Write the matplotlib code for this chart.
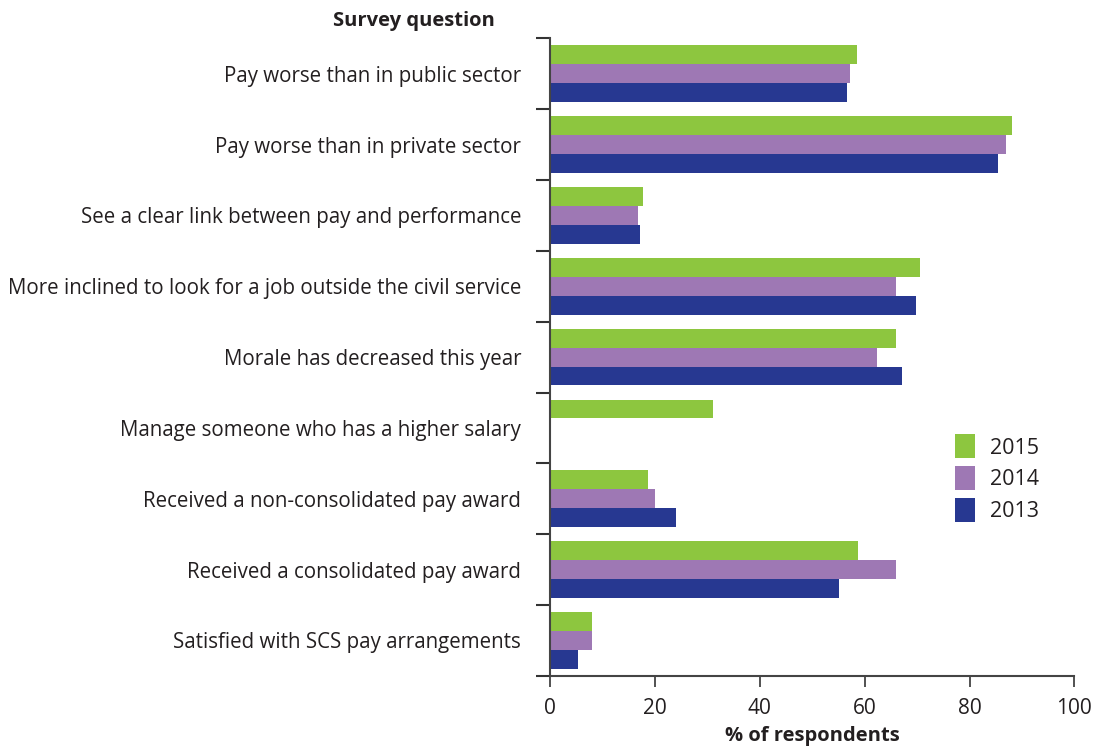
import numpy as np
import matplotlib.pyplot as plt

plt.rcParams['font.family'] = ['Open Sans', 'DejaVu Sans']

# Survey data (% of respondents)
questions = [
    "Pay worse than in public sector",
    "Pay worse than in private sector",
    "See a clear link between pay and performance",
    "More inclined to look for a job outside the civil service",
    "Morale has decreased this year",
    "Manage someone who has a higher salary",
    "Received a non-consolidated pay award",
    "Received a consolidated pay award",
    "Satisfied with SCS pay arrangements",
]
y2015 = [58.6, 88.2, 17.7, 70.5, 65.9, 31.0, 18.7, 58.7, 7.9]
y2014 = [57.1, 87.0, 16.8, 65.9, 62.3, np.nan, 19.9, 66.0, 7.9]
y2013 = [56.7, 85.5, 17.2, 69.7, 67.1, np.nan, 23.9, 55.1, 5.3]

years = ["2015", "2014", "2013"]
colors = ["#8DC63F", "#9E78B4", "#273891"]

fig = plt.figure(figsize=(10.94, 7.51), dpi=100)
ax = fig.add_axes([0.503, 0.1, 0.479, 0.849])

pos = np.arange(len(questions))
h = 0.267
for i, (vals, yr, c) in enumerate(zip([y2015, y2014, y2013], years, colors)):
    ax.barh(pos + (i - 1) * h, np.nan_to_num(vals), height=h, color=c,
            label=yr, zorder=2)

ax.set_ylim(len(questions) - 0.5, -0.5)
ax.set_xlim(0, 100)
ax.set_xticks(range(0, 101, 20))

# labels centred on each group, ticks drawn between groups
ax.set_yticks(pos)
ax.set_yticklabels(questions, fontsize=14.8, color="#231f20")
ax.tick_params(axis="y", length=0, pad=21)
ax.set_yticks(np.arange(-0.5, len(questions) + 0.5, 1), minor=True)
ax.tick_params(axis="y", which="minor", length=10, width=1.5, color="#333333")
ax.tick_params(axis="x", length=8, width=1.2, color="#333333",
               labelsize=15, labelcolor="#231f20", pad=8)

for s in ["top", "right"]:
    ax.spines[s].set_visible(False)
for s in ["left", "bottom"]:
    ax.spines[s].set_color("#444444")
    ax.spines[s].set_linewidth(1.5)

ax.set_xlabel("% of respondents", fontsize=14.5, fontweight="bold",
              color="#231f20", labelpad=5)
fig.text(0.378, 0.972, "Survey question", fontsize=14.5, fontweight="bold",
         color="#231f20", ha="center", va="center")

ax.legend(loc="center left", bbox_to_anchor=(0.735, 0.31), frameon=False,
          fontsize=15.5, handlelength=0.95, handleheight=1.35,
          handletextpad=0.7, labelspacing=0.35, labelcolor="#231f20")

fig.savefig("out.png", dpi=100)
